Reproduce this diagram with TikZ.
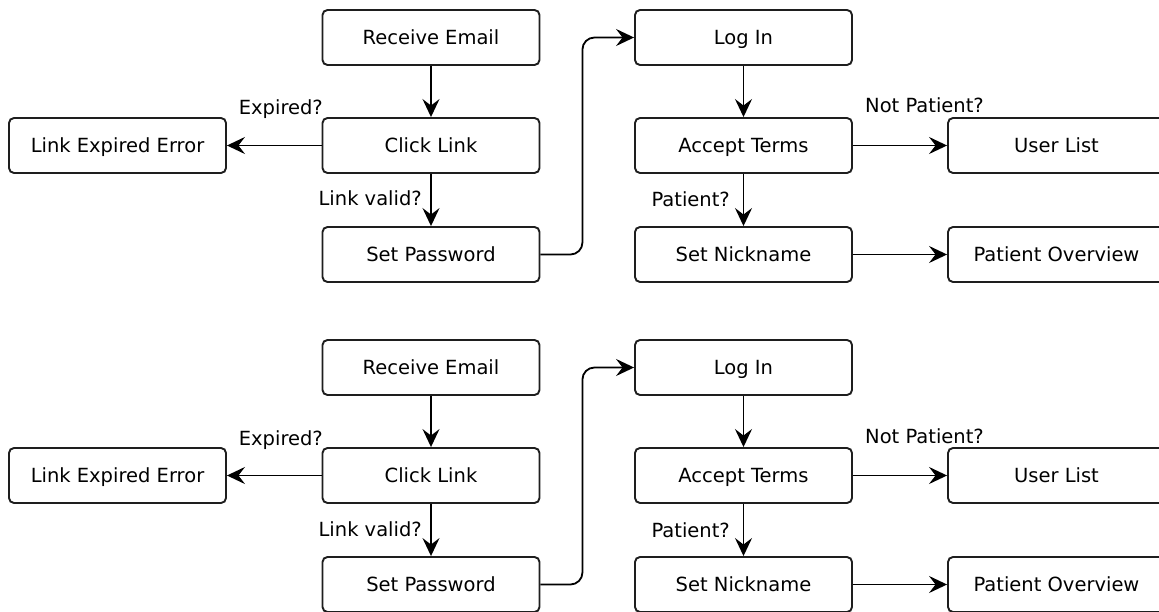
\documentclass[tikz,border=0pt]{standalone}
\usepackage{fontspec}
\setmainfont{DejaVu Sans}
\usetikzlibrary{arrows.meta}
\definecolor{ink}{HTML}{000000}
\definecolor{boxline}{HTML}{1E1E1E}
\begin{document}
\begin{tikzpicture}[x=1pt,y=-1pt,
  stepbox/.style={draw=boxline, line width=1.9pt, rounded corners=5pt, fill=white,
    minimum width=217pt, minimum height=55pt, inner sep=0pt,
    text height=14.5pt, text depth=0.5pt,
    font=\fontsize{19.5}{22}\selectfont, text=ink},
  flow/.style={draw=ink, line width=1.8pt, -{Stealth[length=18pt,width=17pt,inset=6.5pt]}},
  cond/.style={font=\fontsize{19.5}{22}\selectfont, text=ink, inner sep=0pt}]
  \clip (0,0) rectangle (1159,612);
  \fill[white] (0,0) rectangle (1159,612);
  \foreach \p/\dy in {a/0,b/330}{
    \begin{scope}[shift={(0,\dy)}]
      % steps of the sign-up flow
      \node[stepbox] (\p-recv)  at (431,37.5)   {Receive Email};
      \node[stepbox] (\p-click) at (431,145.5)  {Click Link};
      \node[stepbox] (\p-pwd)   at (431,254.5)  {Set Password};
      \node[stepbox] (\p-err)   at (117.5,145.5) {Link Expired Error};
      \node[stepbox] (\p-login) at (743.5,37.5)  {Log In};
      \node[stepbox] (\p-terms) at (743.5,145.5) {Accept Terms};
      \node[stepbox] (\p-nick)  at (743.5,254.5) {Set Nickname};
      \node[stepbox] (\p-users) at (1056.5,145.5) {User List};
      \node[stepbox] (\p-over)  at (1056.5,254.5) {Patient Overview};
      % connectors
      \draw[flow] (\p-recv) -- (\p-click);
      \draw[flow] (\p-click) -- (\p-err);
      \draw[flow] (\p-click) -- (\p-pwd);
      \draw[flow, rounded corners=12pt] (\p-pwd.east) -- ++(42,0) |- (\p-login.west);
      \draw[flow] (\p-login) -- (\p-terms);
      \draw[flow] (\p-terms) -- (\p-users);
      \draw[flow] (\p-terms) -- (\p-nick);
      \draw[flow] (\p-nick) -- (\p-over);
      % branch conditions
      \node[cond, anchor=base east] (\p-lexp)  at (323,115) {Expired?};
      \node[cond, anchor=base east] (\p-lval)  at (422,206) {Link valid?};
      \node[cond, anchor=base west] (\p-lnotp) at (865,113) {Not Patient?};
      \node[cond, anchor=base east] (\p-lpat)  at (730,207) {Patient?};
    \end{scope}
  }
\end{tikzpicture}
\end{document}
